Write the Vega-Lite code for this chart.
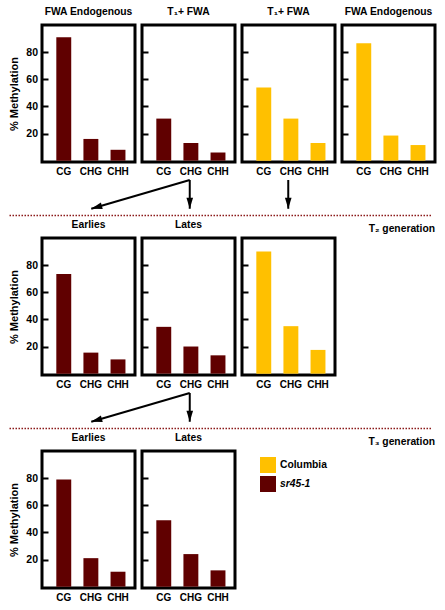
{
  "$schema": "https://vega.github.io/schema/vega-lite/v6.json",
  "background": "white",
  "padding": {"left": 7, "top": 5, "right": 0, "bottom": 0},
  "datasets": {
    "meth": [
      {"panel": "p1", "genotype": "sr45-1", "context": "CG", "value": 91},
      {"panel": "p1", "genotype": "sr45-1", "context": "CHG", "value": 16},
      {"panel": "p1", "genotype": "sr45-1", "context": "CHH", "value": 8},
      {"panel": "p2", "genotype": "sr45-1", "context": "CG", "value": 31},
      {"panel": "p2", "genotype": "sr45-1", "context": "CHG", "value": 13},
      {"panel": "p2", "genotype": "sr45-1", "context": "CHH", "value": 6},
      {"panel": "p3", "genotype": "Columbia", "context": "CG", "value": 54},
      {"panel": "p3", "genotype": "Columbia", "context": "CHG", "value": 31},
      {"panel": "p3", "genotype": "Columbia", "context": "CHH", "value": 13},
      {"panel": "p4", "genotype": "Columbia", "context": "CG", "value": 86.5},
      {"panel": "p4", "genotype": "Columbia", "context": "CHG", "value": 18.5},
      {"panel": "p4", "genotype": "Columbia", "context": "CHH", "value": 11.5},
      {"panel": "p5", "genotype": "sr45-1", "context": "CG", "value": 73.5},
      {"panel": "p5", "genotype": "sr45-1", "context": "CHG", "value": 15.5},
      {"panel": "p5", "genotype": "sr45-1", "context": "CHH", "value": 10.5},
      {"panel": "p6", "genotype": "sr45-1", "context": "CG", "value": 34.5},
      {"panel": "p6", "genotype": "sr45-1", "context": "CHG", "value": 20},
      {"panel": "p6", "genotype": "sr45-1", "context": "CHH", "value": 13.5},
      {"panel": "p7", "genotype": "Columbia", "context": "CG", "value": 90},
      {"panel": "p7", "genotype": "Columbia", "context": "CHG", "value": 35},
      {"panel": "p7", "genotype": "Columbia", "context": "CHH", "value": 17.5},
      {"panel": "p8", "genotype": "sr45-1", "context": "CG", "value": 79},
      {"panel": "p8", "genotype": "sr45-1", "context": "CHG", "value": 21},
      {"panel": "p8", "genotype": "sr45-1", "context": "CHH", "value": 11},
      {"panel": "p9", "genotype": "sr45-1", "context": "CG", "value": 49},
      {"panel": "p9", "genotype": "sr45-1", "context": "CHG", "value": 24},
      {"panel": "p9", "genotype": "sr45-1", "context": "CHH", "value": 12}
    ],
    "arrows": [
      {"gen": "T2", "from": 2, "to": 1},
      {"gen": "T2", "from": 2, "to": 2},
      {"gen": "T2", "from": 3, "to": 3},
      {"gen": "T3", "from": 2, "to": 1},
      {"gen": "T3", "from": 2, "to": 2}
    ],
    "generations": [
      {"gen": "T2", "label": "T₂ generation"},
      {"gen": "T3", "label": "T₃ generation"}
    ]
  },
  "spacing": 1,
  "resolve": {"scale": {"color": "shared"}},
  "vconcat": [
    {
      "hconcat": [
        {
          "width": 93, "height": 137, "title": "FWA Endogenous",
          "data": {"name": "meth"},
          "transform": [{"filter": {"field": "panel", "equal": "p1"}}],
          "mark": "bar",
          "encoding": {
            "x": {"field": "context", "type": "nominal", "sort": ["CG", "CHG", "CHH"], "scale": {"paddingInner": 0.45, "paddingOuter": 0.44, "align": 0.6}, "axis": {"title": null}},
            "y": {"field": "value", "type": "quantitative", "scale": {"domain": [-1, 100], "nice": false, "zero": false}, "axis": {"values": [20, 40, 60, 80], "title": "% Methylation"}},
            "color": {"field": "genotype", "type": "nominal", "title": null, "scale": {"domain": ["Columbia", "sr45-1"], "range": ["#FFC000", "#600000"]}, "legend": {"labelFontStyle": {"expr": "datum.label == 'sr45-1' ? 'italic' : 'normal'"}}}
          }
        },
        {
          "width": 93, "height": 137, "title": "T₁+ FWA",
          "data": {"name": "meth"},
          "transform": [{"filter": {"field": "panel", "equal": "p2"}}],
          "mark": "bar",
          "encoding": {
            "x": {"field": "context", "type": "nominal", "sort": ["CG", "CHG", "CHH"], "scale": {"paddingInner": 0.45, "paddingOuter": 0.44, "align": 0.6}, "axis": {"title": null}},
            "y": {"field": "value", "type": "quantitative", "scale": {"domain": [-1, 100], "nice": false, "zero": false}, "axis": {"values": [20, 40, 60, 80], "title": null, "labels": false}},
            "color": {"field": "genotype", "type": "nominal", "title": null, "scale": {"domain": ["Columbia", "sr45-1"], "range": ["#FFC000", "#600000"]}}
          }
        },
        {
          "width": 93, "height": 137, "title": "T₁+ FWA",
          "data": {"name": "meth"},
          "transform": [{"filter": {"field": "panel", "equal": "p3"}}],
          "mark": "bar",
          "encoding": {
            "x": {"field": "context", "type": "nominal", "sort": ["CG", "CHG", "CHH"], "scale": {"paddingInner": 0.45, "paddingOuter": 0.44, "align": 0.6}, "axis": {"title": null}},
            "y": {"field": "value", "type": "quantitative", "scale": {"domain": [-1, 100], "nice": false, "zero": false}, "axis": {"values": [20, 40, 60, 80], "title": null, "labels": false}},
            "color": {"field": "genotype", "type": "nominal", "title": null, "scale": {"domain": ["Columbia", "sr45-1"], "range": ["#FFC000", "#600000"]}}
          }
        },
        {
          "width": 93, "height": 137, "title": "FWA Endogenous",
          "data": {"name": "meth"},
          "transform": [{"filter": {"field": "panel", "equal": "p4"}}],
          "mark": "bar",
          "encoding": {
            "x": {"field": "context", "type": "nominal", "sort": ["CG", "CHG", "CHH"], "scale": {"paddingInner": 0.45, "paddingOuter": 0.44, "align": 0.6}, "axis": {"title": null}},
            "y": {"field": "value", "type": "quantitative", "scale": {"domain": [-1, 100], "nice": false, "zero": false}, "axis": {"values": [20, 40, 60, 80], "title": null, "labels": false}},
            "color": {"field": "genotype", "type": "nominal", "title": null, "scale": {"domain": ["Columbia", "sr45-1"], "range": ["#FFC000", "#600000"]}}
          }
        }
      ],
      "spacing": 7, "bounds": "flush"
    },
    {
      "width": 394, "height": 35.5,
      "view": {"stroke": null},
      "layer": [
        {
          "data": {"name": "arrows"},
          "transform": [{"filter": {"field": "gen", "equal": "T2"}}],
          "mark": {"type": "rule", "strokeWidth": 2, "color": "black"},
          "encoding": {
            "x": {"field": "from", "type": "quantitative", "scale": {"domain": [0.5, 4.42]}, "axis": null},
            "x2": {"field": "to"},
            "y": {"datum": 0, "type": "quantitative", "scale": {"domain": [0, 1], "reverse": true}, "axis": null},
            "y2": {"datum": 0.81}
          }
        },
        {
          "data": {"name": "arrows"},
          "transform": [{"filter": {"field": "gen", "equal": "T2"}}],
          "mark": {"type": "point", "shape": "M0,0L-0.3,-1L0.3,-1Z", "filled": true, "color": "black", "opacity": 1, "size": 484},
          "encoding": {
            "x": {"field": "to", "type": "quantitative"},
            "y": {"datum": 0.81, "type": "quantitative"},
            "angle": {"condition": {"test": "datum.from != datum.to", "value": 74}, "value": 0}
          }
        },
        {
          "data": {"name": "generations"},
          "transform": [{"filter": {"field": "gen", "equal": "T2"}}],
          "mark": {"type": "rule", "strokeWidth": 1.5, "color": "#8B1A1A", "strokeDash": [1.5, 1.5]},
          "encoding": {
            "x": {"datum": 0.17, "type": "quantitative"},
            "x2": {"datum": 4.45},
            "y": {"datum": 1, "type": "quantitative"}
          }
        }
      ]
    },
    {
      "hconcat": [
        {
          "width": 93, "height": 137, "title": "Earlies",
          "data": {"name": "meth"},
          "transform": [{"filter": {"field": "panel", "equal": "p5"}}],
          "mark": "bar",
          "encoding": {
            "x": {"field": "context", "type": "nominal", "sort": ["CG", "CHG", "CHH"], "scale": {"paddingInner": 0.45, "paddingOuter": 0.44, "align": 0.6}, "axis": {"title": null}},
            "y": {"field": "value", "type": "quantitative", "scale": {"domain": [-1, 100], "nice": false, "zero": false}, "axis": {"values": [20, 40, 60, 80], "title": "% Methylation"}},
            "color": {"field": "genotype", "type": "nominal", "title": null, "scale": {"domain": ["Columbia", "sr45-1"], "range": ["#FFC000", "#600000"]}}
          }
        },
        {
          "width": 93, "height": 137, "title": "Lates",
          "data": {"name": "meth"},
          "transform": [{"filter": {"field": "panel", "equal": "p6"}}],
          "mark": "bar",
          "encoding": {
            "x": {"field": "context", "type": "nominal", "sort": ["CG", "CHG", "CHH"], "scale": {"paddingInner": 0.45, "paddingOuter": 0.44, "align": 0.6}, "axis": {"title": null}},
            "y": {"field": "value", "type": "quantitative", "scale": {"domain": [-1, 100], "nice": false, "zero": false}, "axis": {"values": [20, 40, 60, 80], "title": null, "labels": false}},
            "color": {"field": "genotype", "type": "nominal", "title": null, "scale": {"domain": ["Columbia", "sr45-1"], "range": ["#FFC000", "#600000"]}}
          }
        },
        {
          "width": 93, "height": 137,
          "data": {"name": "meth"},
          "transform": [{"filter": {"field": "panel", "equal": "p7"}}],
          "mark": "bar",
          "encoding": {
            "x": {"field": "context", "type": "nominal", "sort": ["CG", "CHG", "CHH"], "scale": {"paddingInner": 0.45, "paddingOuter": 0.44, "align": 0.6}, "axis": {"title": null}},
            "y": {"field": "value", "type": "quantitative", "scale": {"domain": [-1, 100], "nice": false, "zero": false}, "axis": {"values": [20, 40, 60, 80], "title": null, "labels": false}},
            "color": {"field": "genotype", "type": "nominal", "title": null, "scale": {"domain": ["Columbia", "sr45-1"], "range": ["#FFC000", "#600000"]}}
          }
        },
        {
          "width": 93, "height": 137,
          "view": {"stroke": null},
          "title": {"text": "T₂ generation", "anchor": "end", "offset": 4},
          "data": {"values": []},
          "mark": "text",
          "encoding": {}
        }
      ],
      "spacing": 7, "bounds": "flush"
    },
    {
      "width": 394, "height": 35.5,
      "view": {"stroke": null},
      "layer": [
        {
          "data": {"name": "arrows"},
          "transform": [{"filter": {"field": "gen", "equal": "T3"}}],
          "mark": {"type": "rule", "strokeWidth": 2, "color": "black"},
          "encoding": {
            "x": {"field": "from", "type": "quantitative", "scale": {"domain": [0.5, 4.42]}, "axis": null},
            "x2": {"field": "to"},
            "y": {"datum": 0, "type": "quantitative", "scale": {"domain": [0, 1], "reverse": true}, "axis": null},
            "y2": {"datum": 0.81}
          }
        },
        {
          "data": {"name": "arrows"},
          "transform": [{"filter": {"field": "gen", "equal": "T3"}}],
          "mark": {"type": "point", "shape": "M0,0L-0.3,-1L0.3,-1Z", "filled": true, "color": "black", "opacity": 1, "size": 484},
          "encoding": {
            "x": {"field": "to", "type": "quantitative"},
            "y": {"datum": 0.81, "type": "quantitative"},
            "angle": {"condition": {"test": "datum.from != datum.to", "value": 74}, "value": 0}
          }
        },
        {
          "data": {"name": "generations"},
          "transform": [{"filter": {"field": "gen", "equal": "T3"}}],
          "mark": {"type": "rule", "strokeWidth": 1.5, "color": "#8B1A1A", "strokeDash": [1.5, 1.5]},
          "encoding": {
            "x": {"datum": 0.17, "type": "quantitative"},
            "x2": {"datum": 4.45},
            "y": {"datum": 1, "type": "quantitative"}
          }
        }
      ]
    },
    {
      "hconcat": [
        {
          "width": 93, "height": 137, "title": "Earlies",
          "data": {"name": "meth"},
          "transform": [{"filter": {"field": "panel", "equal": "p8"}}],
          "mark": "bar",
          "encoding": {
            "x": {"field": "context", "type": "nominal", "sort": ["CG", "CHG", "CHH"], "scale": {"paddingInner": 0.45, "paddingOuter": 0.44, "align": 0.6}, "axis": {"title": null}},
            "y": {"field": "value", "type": "quantitative", "scale": {"domain": [-1, 100], "nice": false, "zero": false}, "axis": {"values": [20, 40, 60, 80], "title": "% Methylation"}},
            "color": {"field": "genotype", "type": "nominal", "title": null, "scale": {"domain": ["Columbia", "sr45-1"], "range": ["#FFC000", "#600000"]}}
          }
        },
        {
          "width": 93, "height": 137, "title": "Lates",
          "data": {"name": "meth"},
          "transform": [{"filter": {"field": "panel", "equal": "p9"}}],
          "mark": "bar",
          "encoding": {
            "x": {"field": "context", "type": "nominal", "sort": ["CG", "CHG", "CHH"], "scale": {"paddingInner": 0.45, "paddingOuter": 0.44, "align": 0.6}, "axis": {"title": null}},
            "y": {"field": "value", "type": "quantitative", "scale": {"domain": [-1, 100], "nice": false, "zero": false}, "axis": {"values": [20, 40, 60, 80], "title": null, "labels": false}},
            "color": {"field": "genotype", "type": "nominal", "title": null, "scale": {"domain": ["Columbia", "sr45-1"], "range": ["#FFC000", "#600000"]}}
          }
        },
        {
          "width": 193, "height": 137,
          "view": {"stroke": null},
          "title": {"text": "T₃ generation", "anchor": "end", "offset": 4},
          "data": {"values": []},
          "mark": "text",
          "encoding": {}
        }
      ],
      "spacing": 7, "bounds": "flush"
    }
  ],
  "config": {
    "font": "Liberation Sans",
    "view": {"stroke": "black", "strokeWidth": 3},
    "axisX": {"ticks": false, "domain": false, "grid": false, "labelAngle": 0, "labelPadding": 4, "labelFontSize": 10, "labelFontWeight": "bold", "labelColor": "black", "labelFont": "Liberation Sans"},
    "axisY": {"offset": -6, "tickSize": 6, "tickWidth": 2, "tickColor": "black", "domain": false, "grid": false, "labelPadding": 4.5, "labelFontSize": 10.5, "labelFontWeight": "bold", "labelColor": "black", "labelFont": "Liberation Sans", "titleFontSize": 11, "titleFontWeight": "bold", "titleColor": "black", "titleFont": "Liberation Sans", "titlePadding": 6},
    "title": {"fontSize": 10.3, "fontWeight": "bold", "font": "Liberation Sans", "color": "black", "frame": "group", "anchor": "middle", "offset": 7.5, "baseline": "alphabetic"},
    "legend": {"orient": "none", "legendX": 218, "legendY": 432, "symbolType": "square", "symbolSize": 256, "symbolStrokeWidth": 0, "symbolOpacity": 1, "labelFontSize": 10.3, "labelFontWeight": "bold", "labelColor": "black", "labelFont": "Liberation Sans", "rowPadding": 3, "labelOffset": 4, "padding": 0}
  }
}
